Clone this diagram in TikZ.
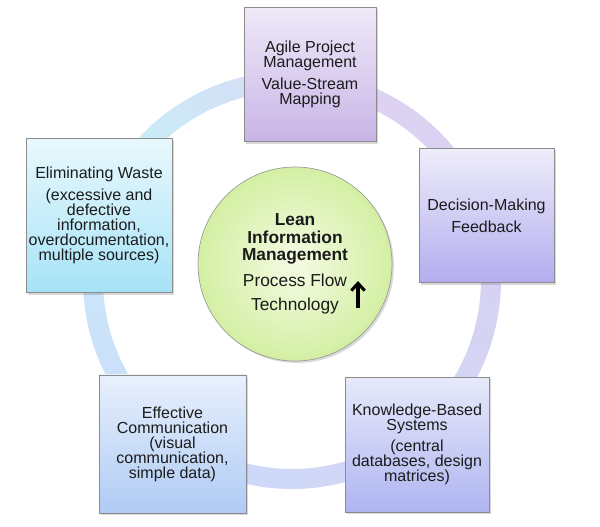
\documentclass[tikz,border=0pt]{standalone}
\usepackage{fontspec}
\setmainfont{Liberation Sans}
\usetikzlibrary{shadows,arrows.meta}
\definecolor{ringC}{HTML}{C9EDF9}
\definecolor{ringB}{HTML}{CCDAF9}
\definecolor{ringL}{HTML}{D7D2F3}
\definecolor{ringP}{HTML}{DDD2F1}
\definecolor{ink}{HTML}{1B1B1B}
\definecolor{leanIn}{HTML}{F5FBE4}
\definecolor{leanOut}{HTML}{D3EFA3}
\definecolor{agileT}{HTML}{EFE9F8}\definecolor{agileB}{HTML}{C8B5E7}
\definecolor{decT}{HTML}{EEEDFA}\definecolor{decB}{HTML}{B3ADEF}
\definecolor{knowT}{HTML}{E7E9FB}\definecolor{knowB}{HTML}{AFB5F1}
\definecolor{effT}{HTML}{E8F0FC}\definecolor{effB}{HTML}{AFCBF5}
\definecolor{wasteT}{HTML}{E9F8FD}\definecolor{wasteB}{HTML}{A6E3F7}

\begin{document}
\begin{tikzpicture}[x=0.75pt, y=-0.75pt,
 card/.style={draw=black!45, line width=0.5pt, rectangle, align=center, inner sep=0pt, text=ink,
  font=\fontsize{12}{11.25}\selectfont, drop shadow={shadow xshift=1.5pt, shadow yshift=-1.5pt, opacity=.3}},
 hub/.style={draw=black!40, line width=0.5pt, circle, align=center, inner sep=0pt, text=ink,
  minimum size=145.5pt, inner color=leanIn, outer color=leanOut,
  font=\fontsize{13}{13}\selectfont, drop shadow={shadow xshift=1.5pt, shadow yshift=-1.5pt, opacity=.3}},
 ring/.style={line width=15pt}]
\useasboundingbox (0,0) rectangle (600,527);
% ring behind the boxes
\begin{scope}[shift={(292,280)}, yscale=-1]
\foreach \a/\b/\c/\d in {140/230/ringC/ringB, 230/360/ringB/ringL, 360/420/ringL/ringP, 420/500/ringP/ringC}{
 \foreach \s in {0,...,19}{
  \pgfmathsetmacro{\st}{\a+(\b-\a)*\s/20}
  \pgfmathsetmacro{\en}{\st+(\b-\a)/20+0.6}
  \pgfmathtruncatemacro{\p}{100-5*\s}
  \draw[ring, draw=\c!\p!\d] (\st:199) arc[start angle=\st, end angle=\en, radius=199];}}
\end{scope}
% boxes
\node[card, minimum width=99pt, minimum height=101pt, top color=agileT, bottom color=agileB] (agile) at (310,74.5)
 {Agile Project\\Management\\[5pt]Value-Stream\\Mapping};
\node[card, minimum width=101pt, minimum height=101pt, top color=decT, bottom color=decB] (decision) at (486.5,215.5)
 {Decision-Making\\[5pt]Feedback};
\node[card, minimum width=108pt, minimum height=101pt, top color=knowT, bottom color=knowB] (knowledge) at (417,444.5)
 {Knowledge-Based\\Systems\\[5pt](central\\databases, design\\matrices)};
\node[card, minimum width=110pt, minimum height=103.5pt, top color=effT, bottom color=effB] (effective) at (172.5,444)
 {Effective\\Communication\\(visual\\communication,\\simple data)};
\node[card, minimum width=109.5pt, minimum height=116pt, top color=wasteT, bottom color=wasteB] (waste) at (99,215.5)
 {Eliminating Waste\\[5pt](excessive and\\defective\\information,\\overdocumentation,\\multiple sources)};
% centre
\node[hub] (lean) at (295,264)
 {\textbf{Lean}\\\textbf{Information}\\\textbf{Management}\\[6.5pt]Process Flow\\[5pt]Technology};
\coordinate (up0) at (358,308);
\coordinate (up1) at (358,281);
\draw[line width=2.3pt, -{Straight Barb[length=5.5pt,width=10pt]}] (up0) -- (up1);
\end{tikzpicture}
\end{document}
